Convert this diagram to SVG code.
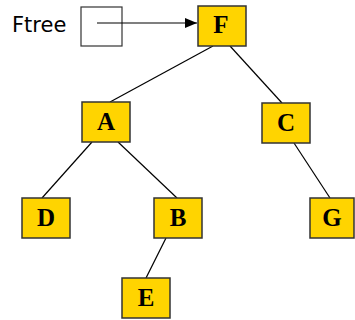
<svg xmlns="http://www.w3.org/2000/svg" width="355" height="320" viewBox="0 0 355 320">
<style>
.node rect{fill:#FFD400;stroke:#333;stroke-width:1.5}
.node text{font-family:"Liberation Serif","Times New Roman",serif;font-weight:bold;font-size:25px;text-anchor:middle;fill:#000}
.edge{stroke:#000;stroke-width:1.2;fill:none}
.lbl{font-family:"DejaVu Sans",sans-serif;font-size:21px;fill:#000}
</style>
<defs>
<marker id="ah" viewBox="0 0 12 10" refX="12" refY="5" markerWidth="12" markerHeight="10" markerUnits="userSpaceOnUse" orient="auto">
<path d="M0,0 L12,5 L0,10 z" fill="#000"/>
</marker>
</defs>
<g id="ftree">
<text class="lbl" x="12" y="32">Ftree</text>
<rect x="81" y="7" width="41" height="39" fill="#fff" stroke="#333" stroke-width="1.2"/>
</g>
<g id="connectors">
<line class="edge" x1="97" y1="23" x2="197" y2="23" marker-end="url(#ah)"/>
<line class="edge" x1="213" y1="46" x2="110" y2="102"/>
<line class="edge" x1="230" y1="46" x2="282" y2="103"/>
<line class="edge" x1="92" y1="142" x2="42" y2="198"/>
<line class="edge" x1="118" y1="142" x2="177" y2="198"/>
<line class="edge" x1="294" y1="143" x2="330" y2="198"/>
<line class="edge" x1="166" y1="238" x2="146" y2="278"/>
</g>
<g id="F" class="node"><rect x="198" y="6" width="48" height="40"/><text x="221" y="33">F</text></g>
<g id="A" class="node"><rect x="82" y="102" width="48" height="40"/><text x="106" y="130">A</text></g>
<g id="C" class="node"><rect x="262" y="103" width="48" height="40"/><text x="286" y="131">C</text></g>
<g id="D" class="node"><rect x="22" y="198" width="48" height="40"/><text x="46" y="226">D</text></g>
<g id="B" class="node"><rect x="154" y="198" width="48" height="40"/><text x="178" y="226">B</text></g>
<g id="G" class="node"><rect x="310" y="198" width="44" height="40"/><text x="332" y="226">G</text></g>
<g id="E" class="node"><rect x="122" y="278" width="48" height="40"/><text x="146" y="306">E</text></g>
</svg>
